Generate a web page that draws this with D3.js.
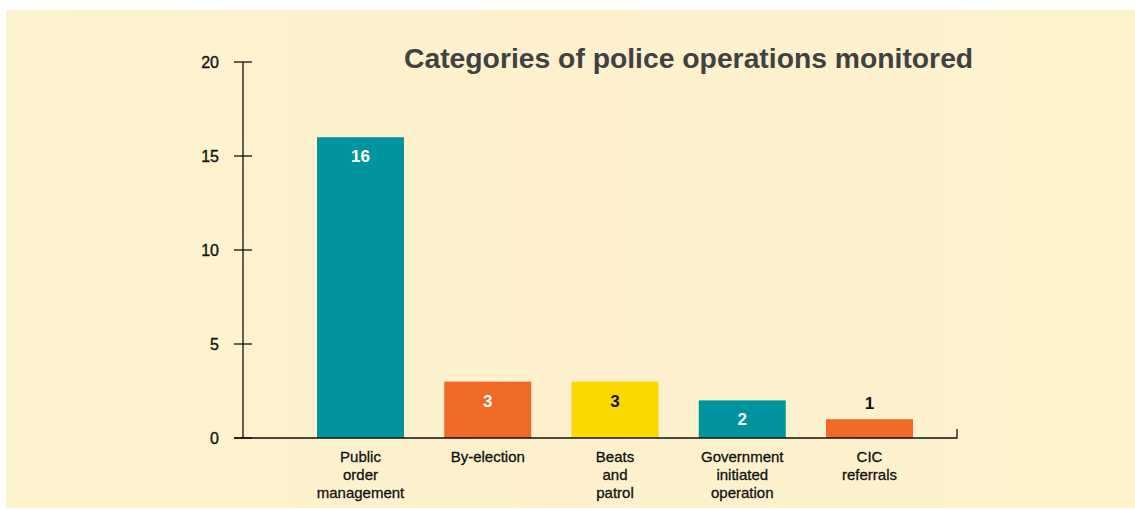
<!DOCTYPE html>
<html>
<head>
<meta charset="utf-8">
<script src="https://cdn.jsdelivr.net/npm/d3@7/dist/d3.min.js"></script>
<style>
  html, body { margin: 0; padding: 0; background: #ffffff; }
  svg { display: block; font-family: "Liberation Sans", Arial, Helvetica, sans-serif; }
</style>
</head>
<body>
<svg id="chart" width="1135" height="509"></svg>
<script>
// Operations monitored, by category
const categories = [
  ["Public", "order", "management"],
  ["By-election"],
  ["Beats", "and", "patrol"],
  ["Government", "initiated", "operation"],
  ["CIC", "referrals"]
];
const values = [16, 3, 3, 2, 1];
const barColors = ["#00959e", "#f06a25", "#fbd900", "#00959e", "#f06a25"];
const labelColors = ["#ffffff", "#ffffff", "#111111", "#ffffff", "#111111"];
const yTicks = [0, 5, 10, 15, 20];
const title = "Categories of police operations monitored";

const svg = d3.select("#chart");

// panel background
const grad = svg.append("defs").append("linearGradient")
  .attr("id", "panel").attr("x1", 0).attr("x2", 1).attr("y1", 0).attr("y2", 0);
grad.append("stop").attr("offset", "0").attr("stop-color", "#fdf3cf");
grad.append("stop").attr("offset", "0.5").attr("stop-color", "#fef0cd");
grad.append("stop").attr("offset", "1").attr("stop-color", "#fcf3cd");
svg.append("rect").attr("x", 6).attr("y", 10).attr("width", 1129).attr("height", 498)
  .attr("fill", "url(#panel)");

const x = d3.scaleBand()
  .domain(d3.range(values.length))
  .range([317, 913])
  .paddingInner(0.3164)
  .paddingOuter(0);

const y = d3.scaleLinear().domain([0, 20]).range([438, 62]);

// y axis
const yAxis = svg.append("g").attr("transform", "translate(243,0)");
yAxis.append("line").attr("x1", 0).attr("x2", 0)
  .attr("y1", y(20)).attr("y2", y(0))
  .attr("stroke", "#111").attr("stroke-width", 1.3);
const tick = yAxis.selectAll("g.tick").data(yTicks).join("g")
  .attr("class", "tick")
  .attr("transform", d => `translate(0,${y(d)})`);
tick.append("line").attr("x1", -9).attr("x2", 9)
  .attr("stroke", "#111").attr("stroke-width", 1.3);
tick.append("text")
  .attr("x", -24).attr("dy", "0.36em")
  .attr("text-anchor", "end")
  .attr("font-size", 16)
  .attr("fill", "#111")
  .attr("stroke", "#111").attr("stroke-width", 0.35)
  .text(d => d);

// bars
svg.append("g").selectAll("rect").data(values).join("rect")
  .attr("x", (d, i) => x(i))
  .attr("width", x.bandwidth())
  .attr("y", d => y(d))
  .attr("height", d => y(0) - y(d))
  .attr("fill", (d, i) => barColors[i]);

// x axis baseline with end tick
svg.append("path")
  .attr("d", `M234,${y(0)}H957V${y(0) - 9}`)
  .attr("fill", "none").attr("stroke", "#111").attr("stroke-width", 1.3);

// value labels
svg.append("g").selectAll("text").data(values).join("text")
  .attr("x", (d, i) => x(i) + x.bandwidth() / 2)
  .attr("y", d => (y(0) - y(d) > 30 ? y(d) + 25 : y(d) - 10))
  .attr("text-anchor", "middle")
  .attr("font-size", 17)
  .attr("font-weight", "bold")
  .attr("fill", (d, i) => labelColors[i])
  .text(d => d);

// category labels
const cat = svg.append("g").selectAll("text").data(categories).join("text")
  .attr("x", (d, i) => x(i) + x.bandwidth() / 2)
  .attr("y", 462)
  .attr("text-anchor", "middle")
  .attr("font-size", 15)
  .attr("fill", "#111")
  .attr("stroke", "#111").attr("stroke-width", 0.3);
cat.selectAll("tspan").data(d => d).join("tspan")
  .attr("x", function () { return this.parentNode.getAttribute("x"); })
  .attr("dy", (d, j) => (j === 0 ? 0 : 18))
  .text(d => d);

// title
svg.append("text")
  .attr("x", 404).attr("y", 68)
  .attr("font-size", 28.3)
  .attr("font-weight", "bold")
  .attr("fill", "#414141")
  .text(title);
</script>
</body>
</html>
